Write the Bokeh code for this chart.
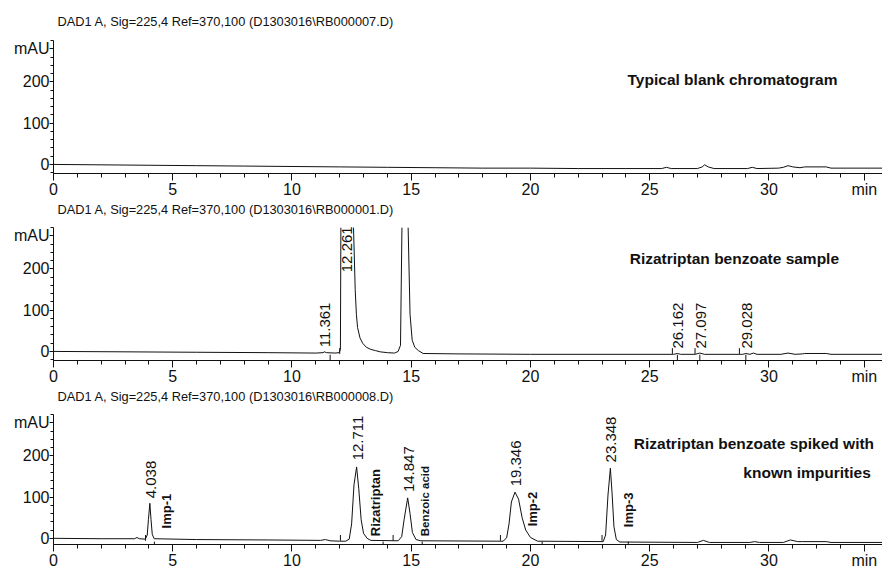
import math
from bokeh.plotting import figure
from bokeh.models import FixedTicker, Label
from bokeh.layouts import column
from bokeh.embed import file_html
from bokeh.resources import INLINE
from bokeh.core.properties import value

FONT = "Liberation Sans"
NAN = float("nan")  # gap: the trace leaves the top of the scale

# ---------------- data ----------------
titles = [
    "DAD1 A, Sig=225,4 Ref=370,100 (D1303016\\RB000007.D)",
    "DAD1 A, Sig=225,4 Ref=370,100 (D1303016\\RB000001.D)",
    "DAD1 A, Sig=225,4 Ref=370,100 (D1303016\\RB000008.D)",
]

# Panel 1: typical blank chromatogram (time min, signal mAU)
blank_time = [0, 2, 4, 6, 8, 10, 12, 14, 16, 18, 20, 22, 24, 25.5, 25.7, 25.9,
              27.0, 27.2, 27.3, 27.45, 27.7, 29.1, 29.3, 29.5, 30.4, 30.6, 30.8,
              31.0, 31.3, 31.5, 32.4, 32.6, 34.8]
blank_mau = [0, -1, -2, -3, -4, -5, -6, -7, -8, -9, -9, -10, -10, -10, -7, -10,
             -10, -6, -1, -6, -10, -10, -7, -10, -9, -7, -3, -6, -8, -6, -6, -9, -9]

# Panel 2: Rizatriptan benzoate sample (two main peaks run off the top of the scale)
sample_time = [0, 3, 6, 9, 11.0, 11.3, 11.36, 11.45, 11.8, 11.98, 12.03, 12.05,
               12.3, 12.58, 12.65, 12.70, 12.75, 12.85, 12.96, 13.12, 13.3,
               13.5, 13.7, 14.0, 14.30, 14.45, 14.55, 14.61, 14.75, 14.87, 14.95,
               15.04, 15.15, 15.3, 15.5, 17, 20, 23, 26.0, 26.16, 26.3, 26.9, 27.1,
               27.3, 28.9, 29.03, 29.2, 29.35, 29.5, 30.5, 30.8, 31.1, 31.4, 31.5,
               32.4, 32.6, 34.8]
sample_mau = [0, -1, -2, -3, -4, -3, -1, -3, -4, -3, 5, 300,
              NAN, 300, 150, 90, 58, 33, 20, 10, 5,
              2, -1, -3, -4, 0, 15, 300, NAN, 300, 90,
              27, 10, 2, -5, -6, -7, -7, -7, -5, -7, -7, -4,
              -7, -7, -5, -7, -4, -7, -7, -4, -7, -6, -5,
              -5, -7, -7]
sample_rt = ["11.361", "12.261", "26.162", "27.097", "29.028"]
sample_rt_time = [11.361, 12.261, 26.162, 27.097, 29.028]
sample_rt_base = [10, 192, 7, 7, 7]
sample_start_marks = [12.0, 25.95, 26.9, 28.76]
sample_end_marks = [11.6, 26.16, 27.1, 29.03]

# Panel 3: spiked with known impurities
spiked_time = [0, 2, 3.4, 3.5, 3.6, 3.85, 3.93, 3.98, 4.04, 4.09, 4.14, 4.22, 6, 9,
               11.2, 11.4, 11.6, 12.0, 12.25, 12.4, 12.5, 12.6, 12.71, 12.8, 12.9,
               13.0, 13.15, 13.3, 14.45, 14.6, 14.7, 14.85, 14.95, 15.05, 15.2, 15.4,
               18.85, 19.0, 19.1, 19.2, 19.35, 19.5, 19.65, 19.8, 20.0, 20.3, 23.05,
               23.15, 23.25, 23.35, 23.42, 23.5, 23.6, 23.75, 27.0, 27.25, 27.5, 29.2,
               29.4, 29.6, 30.6, 30.9, 31.2, 31.4, 32.4, 32.6, 34.8]
spiked_mau = [0, -1, -1, 2, -1, -2, 8, 45, 85, 45, 10, -1, -3, -4,
              -5, -3, -6, -7, -7, -2, 35, 130, 173, 120, 45,
              12, 0, -5, -6, 4, 45, 98, 60, 14, -3, -6,
              -7, 1, 35, 88, 112, 95, 50, 20, 2, -7, -8,
              8, 105, 170, 110, 28, -3, -9, -10, -5, -10, -10,
              -8, -10, -10, -4, -8, -8, -8, -10, -10]
spiked_rt = ["4.038", "12.711", "14.847", "19.346", "23.348"]
spiked_rt_time = [4.038, 12.711, 14.847, 19.346, 23.348]
spiked_rt_base = [97, 189, 112, 126, 184]
spiked_names = ["Imp-1", "Rizatriptan", "Benzoic acid", "Imp-2", "Imp-3"]
spiked_name_time = [4.74, 13.5, 15.58, 20.1, 24.1]
spiked_name_base = [24, 5, 5, 29, 27]
spiked_start_marks = [3.86, 12.03, 14.24, 18.74, 23.0]
spiked_end_marks = [4.23, 13.82, 15.46, 20.49, 24.1]

x_ticks = [0, 5, 10, 15, 20, 25, 30, 34]
x_tick_text = {34: "min"}
y_ticks = [0, 100, 200, 280]
y_tick_text = {280: "mAU"}

# ---------------- drawing ----------------
X_END = 34.76
AX_HI = 300                      # top of the drawn mAU scale
PX_PER_MAU = 0.4125
LINE = "#111111"
AXIS_ROOM = 29                   # pixels below the frame for the time axis


def make_panel(title, t, v, height, ax_lo, title_gap):
    frame_h = height - AXIS_ROOM
    y_top = ax_lo + frame_h / PX_PER_MAU
    p = figure(width=882, height=height, x_range=(0, X_END), y_range=(ax_lo, y_top),
               output_backend="svg", toolbar_location=None,
               min_border_left=53, min_border_right=0,
               min_border_top=0, min_border_bottom=AXIS_ROOM)
    p.outline_line_color = None
    p.grid.visible = False
    p.background_fill_color = "white"
    p.border_fill_color = "white"

    p.xaxis.ticker = FixedTicker(ticks=x_ticks, minor_ticks=list(range(0, 35)))
    p.xaxis.major_label_overrides = x_tick_text
    p.yaxis.ticker = FixedTicker(ticks=y_ticks,
                                 minor_ticks=[-20, 20, 40, 60, 80, 120, 140, 160, 180,
                                              220, 240, 260, 300])
    p.yaxis.major_label_overrides = y_tick_text
    p.yaxis.bounds = (ax_lo, AX_HI)
    for ax in (p.xaxis[0], p.yaxis[0]):
        ax.axis_line_color = LINE
        ax.major_tick_line_color = LINE
        ax.minor_tick_line_color = LINE
        ax.major_tick_in = 0
        ax.minor_tick_in = 0
        ax.major_label_text_font = FONT
        ax.major_label_text_font_size = "16px"
        ax.major_label_text_color = "#111111"
    p.xaxis.major_tick_out = 7
    p.xaxis.minor_tick_out = 4
    p.xaxis.major_label_standoff = 0
    p.yaxis.major_tick_out = 4
    p.yaxis.minor_tick_out = 3
    p.yaxis.major_label_standoff = 0

    p.line(t, v, line_color=LINE, line_width=1)
    # chart title at the top of the panel
    p.add_layout(Label(x=0, y=AX_HI + title_gap / PX_PER_MAU, x_offset=4, text=title,
                       text_font=FONT, text_font_size="12.8px", text_baseline="middle",
                       text_color="#111111"))
    return p


def rt_labels(p, texts, times, bases):
    p.text(x=times, y=bases, text=texts, angle=math.pi / 2, x_offset=1,
           text_align="left", text_baseline="middle", text_font=value(FONT),
           text_font_size="15px", text_color="#111111")


def marks(p, starts, ends):
    p.segment(x0=starts, y0=[8] * len(starts), x1=starts, y1=[-6] * len(starts),
              line_color=LINE, line_width=1)
    p.segment(x0=ends, y0=[-8] * len(ends), x1=ends, y1=[-21] * len(ends),
              line_color=LINE, line_width=1)


def note(p, text, x, y, align="center", size="15.5px"):
    p.add_layout(Label(x=x, y=y, text=text, text_font=FONT, text_font_size=size,
                       text_font_style="bold", text_align=align,
                       text_baseline="middle", text_color="#111111"))


# title_gap: pixels from the top of the mAU scale up to the title's centre
p1 = make_panel(titles[0], blank_time, blank_mau, 202, -22, 18.7)
note(p1, "Typical blank chromatogram", 28.47, 206)

p2 = make_panel(titles[1], sample_time, sample_mau, 187, -22, 18)
rt_labels(p2, sample_rt, sample_rt_time, sample_rt_base)
marks(p2, sample_start_marks, sample_end_marks)
note(p2, "Rizatriptan benzoate sample", 28.55, 225)

p3 = make_panel(titles[2], spiked_time, spiked_mau, 184, -15, 18)
rt_labels(p3, spiked_rt, spiked_rt_time, spiked_rt_base)
marks(p3, spiked_start_marks, spiked_end_marks)
name_sizes = ["13px", "13px", "11.5px", "13px", "13px"]
for nm, tt, bb, sz in zip(spiked_names, spiked_name_time, spiked_name_base, name_sizes):
    p3.text(x=[tt], y=[bb], text=[nm], angle=math.pi / 2, text_align="left",
            text_baseline="middle", text_font=value(FONT), text_font_size=sz,
            text_font_style="bold", text_color="#111111")
note(p3, "Rizatriptan benzoate spiked with", 29.37, 230)
note(p3, "known impurities", 34.27, 160, align="right")

layout = column(p1, p2, p3, spacing=0)
open("out.html", "w").write(file_html(layout, INLINE))
